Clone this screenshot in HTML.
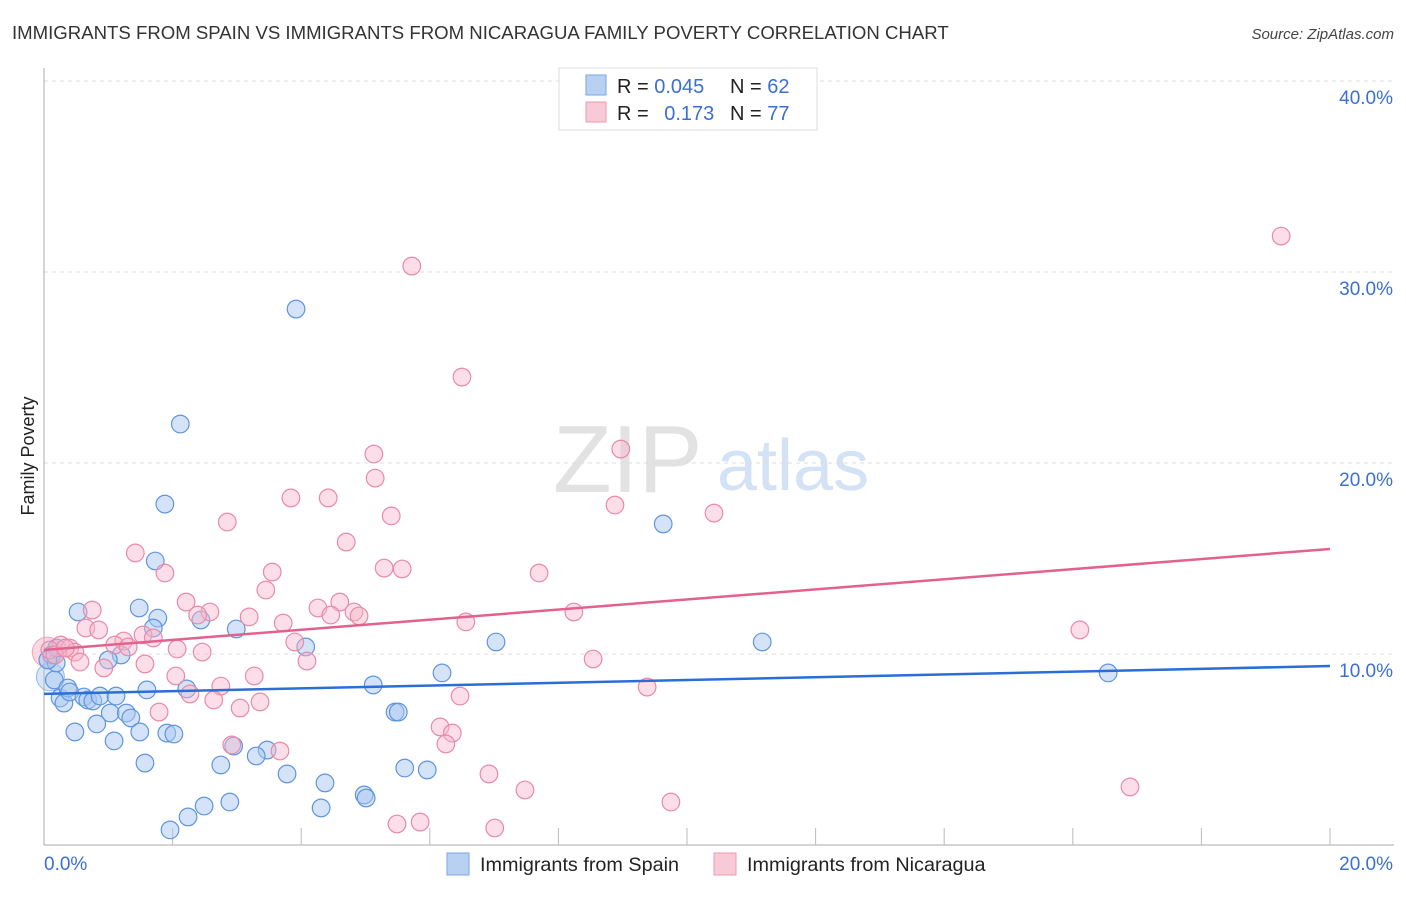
<!DOCTYPE html>
<html><head><meta charset="utf-8"><style>
body{margin:0;background:#fff;font-family:"Liberation Sans",sans-serif;}
svg text{font-family:"Liberation Sans",sans-serif;}
</style></head><body>
<svg id="chart" width="1406" height="892" xmlns="http://www.w3.org/2000/svg">
<text x="12" y="39" font-size="18.6" fill="#333">IMMIGRANTS FROM SPAIN VS IMMIGRANTS FROM NICARAGUA FAMILY POVERTY CORRELATION CHART</text>
<text x="1394" y="39" font-size="15" fill="#444" font-style="italic" text-anchor="end">Source: ZipAtlas.com</text>
<text x="553" y="492" font-size="96" fill="#e2e2e2" font-family="Liberation Serif" >ZIP</text>
<text x="717" y="490" font-size="72" fill="#d3e2f5">atlas</text>
<g id="grid"></g>
<g id="axes"></g>
<g id="pts"></g>
<g id="lines"></g>
<text transform="translate(34,456) rotate(-90)" font-size="18" fill="#222" text-anchor="middle">Family Poverty</text>
<g>
<rect x="559" y="68" width="258" height="62" fill="#fff" stroke="#ddd"/>
<rect x="586" y="75" width="20" height="20" fill="#b8d1f3" stroke="#7ba6e3"/>
<rect x="586" y="102" width="20" height="20" fill="#f8c9d6" stroke="#ec9ab2"/>
<text x="617" y="93" font-size="20" fill="#222">R = <tspan fill="#3b6fd4">0.045</tspan></text>
<text x="730" y="93" font-size="20" fill="#222">N = <tspan fill="#3b6fd4">62</tspan></text>
<text x="617" y="120" font-size="20" fill="#222">R = <tspan fill="#3b6fd4" dx="10">0.173</tspan></text>
<text x="730" y="120" font-size="20" fill="#222">N = <tspan fill="#3b6fd4">77</tspan></text>
</g>
<g>
<rect x="447" y="853" width="22" height="22" fill="#b8d1f3" stroke="#7ba6e3"/>
<text x="480" y="871" font-size="19.8" fill="#222">Immigrants from Spain</text>
<rect x="714" y="853" width="22" height="22" fill="#f8c9d6" stroke="#ec9ab2"/>
<text x="747" y="871" font-size="19.8" fill="#222">Immigrants from Nicaragua</text>
</g>
</svg>
<script>
const yTicks=[10,20,30,40];
const yTickLabels=["10.0%","20.0%","30.0%","40.0%"];
const xTickLabels=["0.0%","20.0%"];
const blueX=[3.92,2.12,1.88,1.73,9.63,11.17,7.03,16.55,6.19,5.12,5.46,5.51,0.53,1.48,1.77,1.70,2.44,2.99,4.07,1.20,1.00,0.12,0.16,0.25,0.31,0.37,0.40,0.62,0.68,0.76,0.87,1.12,1.60,2.22,1.03,1.28,1.35,0.82,0.48,1.09,1.49,1.91,2.02,1.57,2.95,3.47,3.30,2.75,3.78,4.37,5.61,5.96,4.98,5.01,2.89,2.49,2.24,1.96,4.31,0.19,0.06,0.20];
const blueY=[28.06,22.04,17.85,14.87,16.81,10.63,10.63,9.01,9.01,8.38,6.96,6.96,12.20,12.41,11.88,11.36,11.78,11.31,10.37,9.95,9.69,9.95,8.64,7.70,7.43,8.22,8.01,7.75,7.59,7.54,7.80,7.80,8.12,8.17,6.91,6.91,6.65,6.34,5.92,5.45,5.92,5.86,5.81,4.29,5.18,4.97,4.66,4.19,3.72,3.25,4.03,3.93,2.62,2.46,2.25,2.04,1.47,0.79,1.94,9.53,9.69,10.31];
const pinkX=[19.24,5.72,6.50,8.97,5.13,5.15,3.84,4.42,8.88,10.42,5.40,2.85,4.70,1.42,5.29,5.57,3.55,7.70,1.88,3.45,2.21,0.75,2.58,2.39,3.19,4.26,4.60,4.82,4.90,4.46,8.24,6.56,3.72,0.65,0.85,16.11,1.54,1.70,1.24,1.10,1.31,2.07,2.46,3.90,0.26,0.40,0.48,0.56,0.93,1.57,4.09,8.54,2.05,3.27,2.75,2.27,6.47,9.38,2.64,3.36,3.05,1.79,6.16,6.35,6.25,2.92,3.67,6.92,7.48,9.75,16.89,5.49,5.85,7.01,0.09,0.17,0.33];
const pinkY=[31.88,30.31,24.50,20.73,20.47,19.21,18.17,18.17,17.80,17.38,17.23,16.91,15.86,15.29,14.50,14.45,14.29,14.24,14.24,13.35,12.72,12.30,12.20,12.04,11.94,12.41,12.72,12.20,11.99,12.04,12.20,11.68,11.62,11.36,11.26,11.26,11.00,10.84,10.68,10.47,10.37,10.26,10.10,10.63,10.47,10.31,10.10,9.58,9.27,9.48,9.63,9.74,8.85,8.85,8.32,7.91,7.80,8.27,7.59,7.49,7.17,6.96,6.18,5.86,5.29,5.24,4.92,3.72,2.88,2.25,3.04,1.10,1.20,0.89,10.21,9.95,10.31];
const blueTrend=[7.91,9.37];
const pinkTrend=[10.21,15.50];
const NS="http://www.w3.org/2000/svg";
function sx(v){return 44+v*64.3;}
function sy(v){return 845-v*19.1;}
function mk(tag,attrs,parent){const e=document.createElementNS(NS,tag);for(const k in attrs)e.setAttribute(k,attrs[k]);document.getElementById(parent).appendChild(e);return e;}
yTicks.forEach((t,i)=>{
 const g=mk('line',{x1:44,x2:1394,y1:sy(t),y2:sy(t),stroke:'#ddd','stroke-dasharray':'4,4'},'grid');
 
 
 const l=mk('text',{x:1393,y:sy(t)+23,'font-size':19,fill:'#3b6fd4','text-anchor':'end'},'grid');
 l.textContent=yTickLabels[i];
 
 
});
const ya=mk('line',{x1:44,x2:44,y1:68,y2:845,stroke:'#aaa'},'axes');


const xa=mk('line',{x1:44,x2:1394,y1:845,y2:845,stroke:'#aaa'},'axes');


for(let i=1;i<=10;i++){const t=mk('line',{x1:sx(i*2),x2:sx(i*2),y1:828,y2:845,stroke:'#bbb'},'axes');
 
 }
const xl0=mk('text',{x:44,y:870,'font-size':19,fill:'#3b6fd4'},'axes');xl0.textContent=xTickLabels[0];


const xl1=mk('text',{x:1393,y:870,'font-size':19,fill:'#3b6fd4','text-anchor':'end'},'axes');xl1.textContent=xTickLabels[1];


[[0.05,10.1,'#f3a9bf','#e47a9c',15],[0.1,8.8,'#a9c8f0','#5f95de',14]].forEach(b=>{
 const c=mk('circle',{cx:sx(b[0]),cy:sy(b[1]),r:b[4],fill:b[2],'fill-opacity':0.45,stroke:b[3],'stroke-opacity':0.6},'pts');
 
 
});
blueX.forEach((x,i)=>{const c=mk('circle',{cx:sx(x),cy:sy(blueY[i]),r:8.8,fill:'#a9c8f0','fill-opacity':0.5,stroke:'#5f95de','stroke-width':1.2},'pts');
 
 });
pinkX.forEach((x,i)=>{const c=mk('circle',{cx:sx(x),cy:sy(pinkY[i]),r:8.8,fill:'#f6b6c9','fill-opacity':0.45,stroke:'#e98aa8','stroke-width':1.2},'pts');
 
 });
const bl=mk('line',{x1:sx(0),x2:sx(20),y1:sy(blueTrend[0]),y2:sy(blueTrend[1]),stroke:'#2a6fd6','stroke-width':2.5},'lines');


const pl=mk('line',{x1:sx(0),x2:sx(20),y1:sy(pinkTrend[0]),y2:sy(pinkTrend[1]),stroke:'#e2628d','stroke-width':2.5},'lines');


</script>
</body></html>
